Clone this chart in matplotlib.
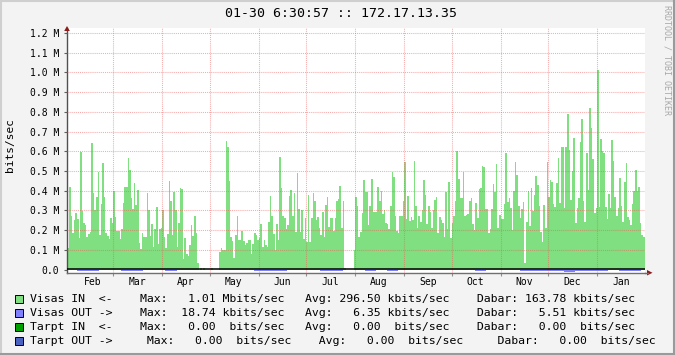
import numpy as np
import matplotlib
matplotlib.use("Agg")
import matplotlib.pyplot as plt
import matplotlib.transforms as mtransforms
from matplotlib.patches import Polygon, Rectangle
from matplotlib.lines import Line2D

plt.rcParams['font.family'] = ['DejaVu Sans Mono']

# ---------------- data ----------------
TITLE = "01-30 6:30:57 :: 172.17.13.35"
MONTHS = ['Feb', 'Mar', 'Apr', 'May', 'Jun', 'Jul', 'Aug', 'Sep', 'Oct', 'Nov', 'Dec', 'Jan']
# month start, in days after Jan 30 (start of the graph)
MONTH_STARTS = [2, 30, 61, 91, 122, 152, 183, 214, 244, 275, 305, 336]
Y_TICKS = [0.0, 0.1, 0.2, 0.3, 0.4, 0.5, 0.6, 0.7, 0.8, 0.9, 1.0, 1.1, 1.2]
Y_LABELS = ['0.0'] + ['%.1f M' % v for v in Y_TICKS[1:]]

# Visas IN, daily values, Mbits/sec
visas_in = [
    0.12,
    0.109, 0.42, 0.274, 0.185, 0.25, 0.286, 0.255, 0.16, 0.597, 0.296, 0.239, 0.224, 0.165, 0.18,
    0.19, 0.642, 0.39, 0.30, 0.37, 0.494, 0.178, 0.333, 0.54, 0.37, 0.185, 0.17, 0.153, 0.264, 0.235,
    0.40, 0.265, 0.195, 0.195, 0.155, 0.205, 0.34, 0.42, 0.42, 0.566, 0.506, 0.365, 0.31, 0.44,
    0.33, 0.405, 0.134, 0.104, 0.188, 0.165, 0.165, 0.39,
    0.30, 0.173, 0.232, 0.114, 0.205, 0.316, 0.13, 0.205, 0.21,
    0.30, 0.165, 0.109, 0.18, 0.45, 0.35, 0.176, 0.393, 0.30, 0.114, 0.239, 0.415, 0.407, 0.052,
    0.158, 0.079, 0.07, 0.126, 0.224, 0.173, 0.27, 0.188, 0.032,
    0.0, 0.007, 0.0, 0.007, 0.0, 0.0, 0.0, 0.0, 0.007, 0.0, 0.0, 0.0, 0.0,
    0.09, 0.109, 0.1, 0.1, 0.652, 0.62, 0.45, 0.165,
    0.143, 0.059, 0.178, 0.27, 0.148, 0.15, 0.195, 0.143, 0.124, 0.133, 0.148, 0.148, 0.077, 0.131,
    0.188, 0.176, 0.148, 0.16, 0.232, 0.113, 0.148, 0.124, 0.113, 0.242, 0.375, 0.27, 0.18, 0.1,
    0.229, 0.148, 0.571, 0.415, 0.27, 0.262, 0.207, 0.224, 0.375, 0.405, 0.272, 0.39, 0.19, 0.49,
    0.31, 0.19, 0.3, 0.153, 0.264, 0.141, 0.38, 0.14, 0.262, 0.39,
    0.346, 0.254, 0.265, 0.213, 0.178, 0.29, 0.168, 0.328, 0.37, 0.218, 0.26, 0.262, 0.198, 0.26,
    0.35, 0.36, 0.425, 0.21, 0.35, 0.007, 0.0, 0.0, 0.0, 0.0, 0.0, 0.1, 0.37, 0.325, 0.165, 0.19,
    0.285, 0.455, 0.395, 0.393, 0.224, 0.324, 0.46, 0.293, 0.29, 0.29, 0.42, 0.35, 0.4, 0.282, 0.3,
    0.237, 0.232, 0.207, 0.324, 0.496, 0.47, 0.27, 0.195,
    0.185, 0.274, 0.274, 0.35, 0.546, 0.257, 0.375, 0.245, 0.265, 0.254, 0.55, 0.325, 0.21, 0.27,
    0.244, 0.3, 0.455, 0.38, 0.232, 0.325, 0.294, 0.21, 0.3, 0.355, 0.37, 0.185, 0.265, 0.252,
    0.239, 0.168, 0.395, 0.208, 0.442, 0.16, 0.239, 0.27, 0.35, 0.6, 0.46, 0.365, 0.363, 0.494,
    0.272, 0.278, 0.28, 0.35, 0.363, 0.229, 0.2, 0.34, 0.264, 0.408,
    0.413, 0.524, 0.52, 0.306, 0.306, 0.186, 0.208, 0.306, 0.433, 0.394, 0.534, 0.212, 0.276, 0.256,
    0.256, 0.332, 0.59, 0.344, 0.362, 0.311, 0.2, 0.397, 0.544, 0.478, 0.322, 0.26, 0.306, 0.342,
    0.035, 0.244, 0.397, 0.222, 0.413, 0.298, 0.377, 0.473, 0.428, 0.323, 0.191, 0.139, 0.327, 0.21,
    0.546, 0.369, 0.455, 0.445, 0.332, 0.316, 0.44, 0.566, 0.337, 0.62, 0.62,
    0.311, 0.62, 0.787, 0.605, 0.352, 0.499, 0.666, 0.236, 0.311, 0.362, 0.646, 0.762, 0.347, 0.24,
    0.59, 0.403, 0.818, 0.716, 0.56, 0.286, 0.311,
    1.01,
    0.316, 0.661, 0.6, 0.59, 0.316, 0.256, 0.382, 0.311, 0.655, 0.549, 0.367, 0.274, 0.311, 0.463,
    0.322, 0.24, 0.443, 0.539, 0.266, 0.25, 0.225, 0.332, 0.397, 0.504, 0.397, 0.418, 0.236, 0.175,
    0.165,
]

# Visas OUT, weekly values, kbits/sec (drawn below zero)
visas_out = [0, 6, 7, 0, 3, 6, 5, 3, 0, 6, 0, 0, 0, 4, 0, 0, 0, 5, 6, 6, 0, 3, 0, 5, 6, 0, 4,
             5, 4, 5, 0, 4, 0, 4, 0, 0, 4, 5, 0, 0, 0, 7, 6, 6, 5, 10, 9, 8, 7, 0, 6, 6, 0]

LEGEND_ROWS = [
    ("Visas IN  <-    Max:   1.01 Mbits/sec   Avg: 296.50 kbits/sec    Dabar: 163.78 kbits/sec", '#80df80'),
    ("Visas OUT ->    Max:  18.74 kbits/sec   Avg:   6.35 kbits/sec    Dabar:   5.51 kbits/sec", '#8080ff'),
    ("Tarpt IN  <-    Max:   0.00  bits/sec   Avg:   0.00  bits/sec    Dabar:   0.00  bits/sec", '#00a000'),
    ("Tarpt OUT ->     Max:   0.00  bits/sec    Avg:   0.00  bits/sec     Dabar:   0.00  bits/sec", '#4a62c0'),
]

# ---------------- drawing ----------------
W, H = 675, 355
def fx(x):
    return x / W
def fy(y):
    return 1 - y / H

fig = plt.figure(figsize=(W / 100, H / 100), dpi=100, facecolor='#f3f3f3')
ax = fig.add_axes([fx(67), fy(273), fx(645) - fx(67), fy(28) - fy(273)])
ax.set_facecolor('white')

days = np.arange(len(visas_in) + 1)
ax.stairs(visas_in, days, fill=True, color='#80df80', baseline=0, linewidth=0, zorder=2)
weeks = np.arange(len(visas_out) + 1) * 7
ax.stairs(-np.array(visas_out) / 1000.0, weeks, fill=True, color='#7f7fff',
          baseline=0, linewidth=0, zorder=2)

grid_c = (0.95, 0.35, 0.35, 0.5)
for v in Y_TICKS[1:]:
    ax.axhline(v, color=grid_c, ls=(0, (1, 1)), lw=0.75, zorder=3)
for m in MONTH_STARTS[1:]:
    ax.axvline(m, color=grid_c, ls=(0, (1, 1)), lw=0.75, zorder=3)
ax.axhline(0.001, color='black', lw=1.1, zorder=4)

ax.set_xlim(0.7, 366.3)
ax.set_ylim(-0.017, 1.2253)

ax.set_yticks(Y_TICKS)
ax.set_yticklabels(Y_LABELS)
ax.set_xticks(MONTH_STARTS[1:])
ax.set_xticklabels([])
ax.tick_params(axis='y', length=2.5, width=0.8, color='#606060', pad=3.2,
               labelsize=7, labelcolor='black')
ax.tick_params(axis='x', length=2.5, width=0.8, color='#909090')

for s in ['top', 'right']:
    ax.spines[s].set_visible(False)
ax.spines['left'].set_color('#505050')
ax.spines['left'].set_linewidth(1.0)
ax.spines['bottom'].set_color('#707070')
ax.spines['bottom'].set_linewidth(1.0)

trans = mtransforms.blended_transform_factory(ax.transData, fig.transFigure)
for m, name in zip(MONTH_STARTS, MONTHS):
    ax.text(m + 15, fy(281.7), name, transform=trans, ha='center', va='center',
            fontsize=7, color='black', clip_on=False)

# axis extensions and arrows
fig.add_artist(Line2D([fx(645), fx(648)], [fy(272.8), fy(272.8)], color='#707070', lw=1.0,
                      transform=fig.transFigure))
fig.add_artist(Polygon([(fx(64.2), fy(31)), (fx(69.8), fy(31)), (fx(67), fy(26))], closed=True,
                       facecolor='#8b1a1a', edgecolor='none', transform=fig.transFigure))
fig.add_artist(Polygon([(fx(647), fy(270)), (fx(647), fy(275.5)), (fx(652.5), fy(272.8))], closed=True,
                       facecolor='#8b1a1a', edgecolor='none', transform=fig.transFigure))

# texts
fig.text(fx(341), fy(13.8), TITLE, ha='center', va='center', fontsize=9.5, color='black')
fig.text(fx(10.5), fy(145), 'bits/sec', rotation=90, ha='center', va='center', fontsize=8)
fig.text(fx(667), fy(5), 'RRDTOOL / TOBI OETIKER', rotation=270, ha='center', va='top',
         fontsize=6, color='#a8a8a8')

# legend
row_y = [299.3, 313.3, 327.3, 341.0]
for (txt, col), yy in zip(LEGEND_ROWS, row_y):
    fig.add_artist(Rectangle((fx(15), fy(yy + 4)), fx(8), 8 / H, facecolor=col,
                             edgecolor='black', lw=0.7, transform=fig.transFigure))
    fig.text(fx(30), fy(yy), txt, ha='left', va='center', fontsize=8.25, color='black')

# frame
fig.add_artist(Line2D([0, 1], [fy(0.5), fy(0.5)], color='#cfcfcf', lw=1.5, transform=fig.transFigure))
fig.add_artist(Line2D([fx(0.5), fx(0.5)], [0, 1], color='#cfcfcf', lw=1.5, transform=fig.transFigure))
fig.add_artist(Line2D([0, 1], [fy(353.5), fy(353.5)], color='#9a9a9a', lw=1.5, transform=fig.transFigure))
fig.add_artist(Line2D([fx(673.5), fx(673.5)], [0, 1], color='#9a9a9a', lw=1.5, transform=fig.transFigure))

fig.savefig('out.png', dpi=100, facecolor=fig.get_facecolor())
